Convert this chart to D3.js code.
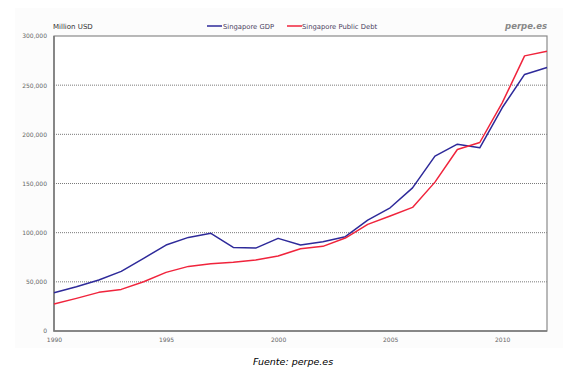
<!DOCTYPE html>
<html><head><meta charset="utf-8">
<script src="https://cdn.jsdelivr.net/npm/d3@7"></script>
<style>body{margin:0;background:#fff}svg{display:block}</style>
</head><body>
<script>
const years = d3.range(1990, 2013);
const gdp  = [38.9,45,51.8,60.6,73.9,87.4,95.2,99.3,85,84.3,94.2,87.4,90.8,95.9,112.8,125.3,145.6,177.8,190,186.3,227,260.9,268].map(v=>v*1000);
const debt = [27.4,33.2,39.3,42.3,50.1,59.6,65.7,68.4,69.8,72.2,76.2,83.6,86.1,94.5,108.4,116.9,125.7,151.4,184.6,191.7,232,279.8,284.6].map(v=>v*1000);
const yTicks = [0,50000,100000,150000,200000,250000,300000];
const xTicks = [1990,1995,2000,2005,2010];
const seriesNames = ["Singapore GDP","Singapore Public Debt"];
const colors = ["#2e2a9a","#f0243c"];

const W=573,H=383;
const svg=d3.select("body").append("svg").attr("width",W).attr("height",H);
svg.append("rect").attr("x",15).attr("y",8).attr("width",548).attr("height",340).attr("fill","#fcfcfc");
const x=d3.scaleLinear().domain([1990,2012]).range([54,547]);
const y=d3.scaleLinear().domain([0,300000]).range([331,36]);
const font="DejaVu Sans, Verdana, sans-serif";

svg.append("rect").attr("x",54).attr("y",36).attr("width",493).attr("height",295).attr("fill","#fff");
// grid
svg.append("g").selectAll("line").data(yTicks.filter(d=>d>0&&d<300000)).join("line")
  .attr("x1",54).attr("x2",547).attr("y1",d=>y(d)).attr("y2",d=>y(d))
  .attr("stroke","#7a7a7a").attr("stroke-width",1).attr("stroke-dasharray","1,1");
// frame
svg.append("rect").attr("x",54).attr("y",36).attr("width",493).attr("height",295)
  .attr("fill","none").attr("stroke","#8a8a8a").attr("stroke-width",1.2);
svg.append("path").attr("d",`M54,36V331H547`).attr("fill","none").attr("stroke","#777").attr("stroke-width",1.5);

// y axis
const ya=svg.append("g").attr("transform","translate(54,0)")
  .call(d3.axisLeft(y).tickValues(yTicks).tickFormat(d3.format(",")).tickSize(0).tickPadding(7));
ya.select(".domain").remove();
ya.selectAll("text").attr("font-family",font).attr("font-size",6).attr("fill","#666");
// x axis
const xa=svg.append("g").attr("transform","translate(0,331)")
  .call(d3.axisBottom(x).tickValues(xTicks).tickFormat(d3.format("d")).tickSize(0).tickPadding(7));
xa.select(".domain").remove();
xa.selectAll("text").attr("font-family",font).attr("font-size",6).attr("fill","#666");

// lines
const line=d3.line().x((d,i)=>x(years[i])).y(d=>y(d));
[gdp,debt].forEach((s,k)=>{
  svg.append("path").datum(s).attr("d",line).attr("fill","none").attr("stroke",colors[k]).attr("stroke-width",1.5).attr("stroke-linejoin","round");
});

// texts
svg.append("text").attr("x",53).attr("y",29).text("Million USD").attr("font-family",font).attr("font-size",7).attr("fill","#333");
const lg=[{x:207,tx:223},{x:287,tx:302}];
seriesNames.forEach((n,k)=>{
  svg.append("line").attr("x1",lg[k].x).attr("x2",lg[k].x+15).attr("y1",26).attr("y2",26).attr("stroke",colors[k]).attr("stroke-width",1.5);
  svg.append("text").attr("x",lg[k].tx).attr("y",29).text(n).attr("font-family",font).attr("font-size",6.8).attr("fill","#4a4060");
});
svg.append("text").attr("x",547).attr("y",29).attr("text-anchor","end").text("perpe.es")
  .attr("font-family",font).attr("font-size",8.5).attr("font-style","italic").attr("font-weight","bold").attr("fill","#888");
svg.append("text").attr("x",293).attr("y",365).attr("text-anchor","middle").text("Fuente: perpe.es")
  .attr("font-family",font).attr("font-size",9.5).attr("font-style","italic").attr("fill","#000");
</script>
</body></html>
